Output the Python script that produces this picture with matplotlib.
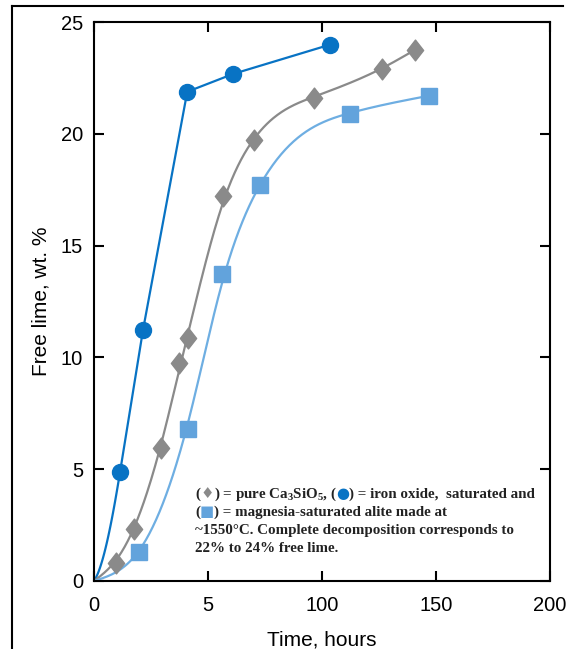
import numpy as np
import matplotlib
matplotlib.use("Agg")
import matplotlib.pyplot as plt
from matplotlib.path import Path
from matplotlib.lines import Line2D

# ---- data ----
iron_t = [11.4, 21.5, 40.9, 61.1, 103.3]
iron_v = [4.86, 11.23, 21.88, 22.68, 23.98]

pure_t = [9.7, 17.6, 29.5, 37.4, 41.3, 56.7, 70.3, 96.3, 126.2, 140.7]
pure_v = [0.80, 2.32, 5.93, 9.76, 10.87, 17.20, 19.74, 21.61, 22.91, 23.75]

mag_t = [19.8, 41.3, 56.3, 73.0, 112.1, 146.8]
mag_v = [1.29, 6.82, 13.73, 17.69, 20.90, 21.70]

x_ticks = [0, 50, 100, 150, 200]
x_tick_labels = ["0", "5", "100", "150", "200"]
y_ticks = [0, 5, 10, 15, 20, 25]

C_IRON = "#0873c4"
C_PURE = "#8a8a8a"
C_MAG = "#62a3dc"
C_MAG_LINE = "#6eaee2"


def smooth_trend(t, v, lam_eff=150.0, n=400):
    """Penalised smoothing curve (Whittaker) through the origin and the points."""
    tt = np.concatenate([[0.0], t]); vv = np.concatenate([[0.0], v])
    w = np.ones(len(tt)); w[0] = 1e4; w[-1] = 20.0
    xs = np.linspace(0, tt[-1], n)
    h = xs[1] - xs[0]
    B = np.zeros((len(tt), n))
    for i, x in enumerate(tt):
        j = min(int(x / h), n - 2)
        f = (x - xs[j]) / h
        B[i, j] = 1 - f; B[i, j + 1] = f
    D = np.diff(np.eye(n), 2, axis=0)
    lam = lam_eff / h**3
    W = np.diag(w)
    A = B.T @ W @ B + lam * D.T @ D
    y = np.linalg.solve(A, B.T @ W @ vv)
    return xs, y


def iron_curve(t, v, n=60):
    # curved start from the origin into the first point, straight segments afterwards
    s1 = (v[1] - v[0]) / (t[1] - t[0])
    s0 = 0.15
    u = np.linspace(0, 1, n)
    h = t[0]
    y0 = (3 * u**2 - 2 * u**3) * v[0] + (u**3 - 2 * u**2 + u) * h * s0 + (u**3 - u**2) * h * s1
    xs = np.concatenate([u * h, t[1:]])
    ys = np.concatenate([y0, v[1:]])
    return xs, ys


plt.rcParams['font.family'] = ['Liberation Sans', 'DejaVu Sans']
plt.rcParams['mathtext.fontset'] = 'custom'
plt.rcParams['mathtext.rm'] = 'Liberation Serif:bold'
plt.rcParams['mathtext.it'] = 'Liberation Serif:bold'
plt.rcParams['mathtext.bf'] = 'Liberation Serif:bold'

fig = plt.figure(figsize=(5.68, 6.49), dpi=100)
ax = fig.add_axes([94 / 568, 68 / 649, 456 / 568, 559 / 649])

# outer frame (top and left lines)
fig.add_artist(Line2D([12 / 568, 12 / 568], [0, 1 - 6 / 649], transform=fig.transFigure,
                      color="black", lw=1.5))
fig.add_artist(Line2D([12 / 568, 563 / 568], [1 - 6 / 649, 1 - 6 / 649], transform=fig.transFigure,
                      color="black", lw=1.5))

diamond = Path([(0, 1), (0.78, 0), (0, -1), (-0.78, 0), (0, 1)],
               [Path.MOVETO, Path.LINETO, Path.LINETO, Path.LINETO, Path.CLOSEPOLY])

xs, ys = iron_curve(iron_t, iron_v)
ax.plot(xs, ys, color=C_IRON, lw=1.6, zorder=2)
ax.plot(iron_t, iron_v, 'o', color=C_IRON, ms=11.5, mec=C_IRON, zorder=3)

xs, ys = smooth_trend(pure_t, pure_v)
ax.plot(xs, ys, color=C_PURE, lw=1.6, zorder=2)
ax.plot(pure_t, pure_v, marker=diamond, ls='none', color=C_PURE, ms=15, mec=C_PURE, zorder=3)

xs, ys = smooth_trend(mag_t, mag_v)
ax.plot(xs, ys, color=C_MAG_LINE, lw=1.6, zorder=2)
ax.plot(mag_t, mag_v, 's', color=C_MAG, ms=12, mec=C_MAG, zorder=3)

ax.set_xlim(0, 200)
ax.set_ylim(0, 25)
ax.set_xticks(x_ticks)
ax.set_xticklabels(x_tick_labels)
ax.set_yticks(y_ticks)
ax.tick_params(direction='in', length=7, width=1.5, top=True, right=True,
               labelsize=14.5, colors='black')
ax.tick_params(axis='y', pad=8)
ax.tick_params(axis='x', pad=11)
for sp in ax.spines.values():
    sp.set_linewidth(1.5)

ax.set_xlabel("Time, hours", fontsize=15, labelpad=11)
ax.set_ylabel("Free lime, wt. %", fontsize=15, labelpad=7)

# annotation text block
serif = ['Liberation Serif', 'DejaVu Serif']
sym = ['DejaVu Sans']
fs = 10.8
tc = "#222222"
x0 = 195 / 568
base_y = [1 - 498 / 649, 1 - 516 / 649, 1 - 534 / 649, 1 - 552 / 649]
renderer = fig.canvas.get_renderer()


def run(pieces, y):
    x = x0
    for s, col, fam in pieces:
        t = fig.text(x, y, s, fontsize=fs, color=col, family=fam, fontweight='bold',
                     va='baseline', ha='left')
        bb = t.get_window_extent(renderer)
        x = fig.transFigure.inverted().transform((bb.x1, bb.y0))[0]


run([("(", tc, serif), ("\u2666", C_PURE, sym), (") = pure Ca$_{3}$SiO$_{5}$, (", tc, serif),
     ("\u25cf", C_IRON, sym), (") = iron oxide,  saturated and", tc, serif)], base_y[0])
run([("(", tc, serif), ("\u25a0", C_MAG, sym), (") = magnesia-saturated alite made at", tc, serif)],
    base_y[1])
run([("~1550\u00b0C. Complete decomposition corresponds to", tc, serif)], base_y[2])
run([("22% to 24% free lime.", tc, serif)], base_y[3])

fig.savefig("out.png", dpi=100)
